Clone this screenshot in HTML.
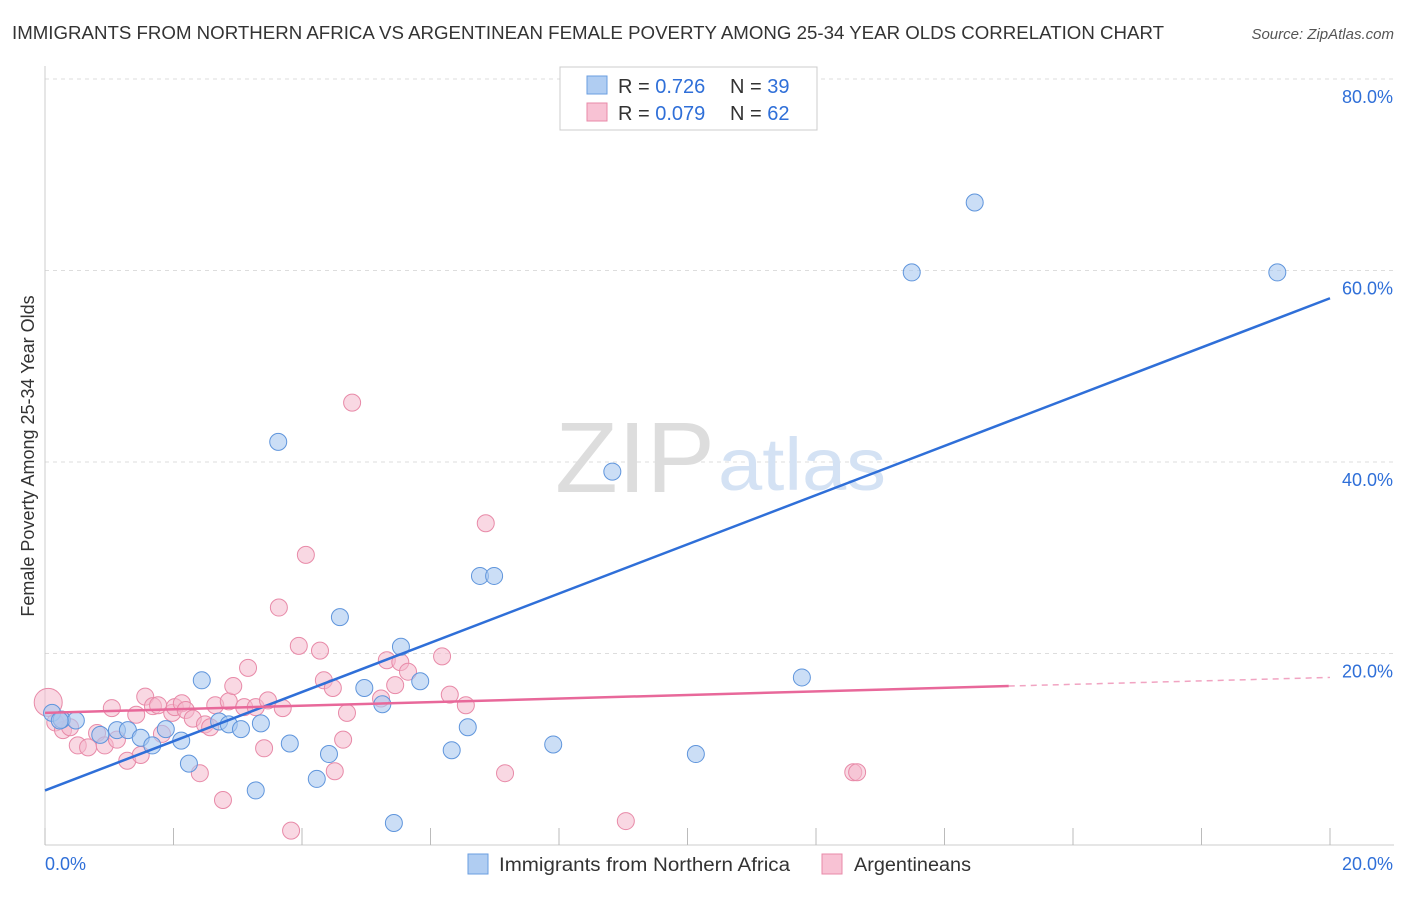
<!DOCTYPE html>
<html><head><meta charset="utf-8">
<style>
body{margin:0;background:#fff;font-family:"Liberation Sans",sans-serif;}
svg text{font-family:"Liberation Sans",sans-serif;}
</style></head><body>
<svg id="chart" width="1406" height="892" xmlns="http://www.w3.org/2000/svg">
<text x="12" y="39" font-size="18" fill="#333" textLength="1152" lengthAdjust="spacingAndGlyphs">IMMIGRANTS FROM NORTHERN AFRICA VS ARGENTINEAN FEMALE POVERTY AMONG 25-34 YEAR OLDS CORRELATION CHART</text>
<text x="1394" y="39" font-size="15" fill="#555" text-anchor="end" font-style="italic">Source: ZipAtlas.com</text>
<text transform="translate(34,456) rotate(-90)" font-size="18" fill="#333" text-anchor="middle">Female Poverty Among 25-34 Year Olds</text>
<g id="grid"></g>
<text x="555" y="492" font-size="100" fill="#ddd" font-family="Liberation Serif" textLength="160" lengthAdjust="spacingAndGlyphs">ZIP</text>
<text x="718" y="490" font-size="74" fill="#d4e2f4" textLength="168" lengthAdjust="spacingAndGlyphs">atlas</text>
<g id="marks"></g>
<g>
<rect x="560" y="67" width="257" height="63" fill="#fff" stroke="#ccc"/>
<rect x="587" y="76" width="20" height="18" fill="#b0cdf2" stroke="#6a9ee0"/>
<rect x="587" y="103" width="20" height="18" fill="#f8c2d4" stroke="#e88aa8"/>
<text x="618" y="93" font-size="20" fill="#333">R = <tspan fill="#2f6fd8">0.726</tspan></text>
<text x="730" y="93" font-size="20" fill="#333">N = <tspan fill="#2f6fd8">39</tspan></text>
<text x="618" y="120" font-size="20" fill="#333">R = <tspan fill="#2f6fd8">0.079</tspan></text>
<text x="730" y="120" font-size="20" fill="#333">N = <tspan fill="#2f6fd8">62</tspan></text>
</g>
<g>
<rect x="468" y="854" width="20" height="20" fill="#b0cdf2" stroke="#6a9ee0"/>
<text x="499" y="871" font-size="19" fill="#333" textLength="291" lengthAdjust="spacingAndGlyphs">Immigrants from Northern Africa</text>
<rect x="822" y="854" width="20" height="20" fill="#f8c2d4" stroke="#e88aa8"/>
<text x="854" y="871" font-size="19" fill="#333" textLength="117" lengthAdjust="spacingAndGlyphs">Argentineans</text>
</g>
</svg>
<script>
const yTicks=[0,20,40,60,80];
const xTickLabels=["0.0%","20.0%"];
const blueX=[0.11,0.26,0.48,0.86,1.12,1.29,1.49,1.67,1.88,2.12,2.24,2.44,2.71,2.86,3.05,3.28,3.36,3.63,3.81,4.23,4.42,4.59,4.97,5.25,5.43,5.54,5.84,6.33,6.58,6.77,6.99,7.91,8.83,10.13,11.78,13.49,14.47,19.18,0.23];
const blueY=[13.8,13.1,13.0,11.5,12.0,12.0,11.2,10.4,12.1,10.9,8.5,17.2,12.9,12.6,12.1,5.7,12.7,42.1,10.6,6.9,9.5,23.8,16.4,14.7,2.3,20.7,17.1,9.9,12.3,28.1,28.1,10.5,39.0,9.5,17.5,59.8,67.1,59.8,13.0];
const pinkX=[0.05,0.16,0.28,0.39,0.51,0.67,0.81,0.93,1.04,1.12,1.28,1.42,1.49,1.56,1.68,1.76,1.82,1.98,2.02,2.13,2.19,2.30,2.41,2.49,2.57,2.65,2.77,2.86,2.93,3.10,3.16,3.28,3.41,3.47,3.70,3.83,3.95,4.06,3.64,4.28,4.34,4.48,4.64,4.51,4.70,4.78,5.23,5.32,5.45,5.53,5.65,6.18,6.30,6.55,6.86,7.16,9.04,12.58,12.64,0.26];
const pinkY=[14.9,12.8,12.0,12.3,10.4,10.2,11.7,10.4,14.3,11.0,8.8,13.6,9.4,15.5,14.5,14.6,11.6,13.8,14.4,14.8,14.1,13.2,7.5,12.6,12.3,14.6,4.7,15.0,16.6,14.4,18.5,14.4,10.1,15.1,14.3,1.5,20.8,30.3,24.8,20.3,17.2,16.4,11.0,7.7,13.8,46.2,15.3,19.3,16.7,19.1,18.1,19.7,15.7,14.6,33.6,7.5,2.5,7.6,7.6,13.1];
const blueLine=[0,5.7,20,57.1];
const pinkLine=[0,13.8,15,16.6,20,17.5];
const X=v=>45+v/20*1285, Y=v=>845-v/80*766;
const NS="http://www.w3.org/2000/svg";
function mk(p,t,a){const e=document.createElementNS(NS,t);for(const k in a)e.setAttribute(k,a[k]);p.appendChild(e);return e;}
const grid=document.getElementById('grid'), marks=document.getElementById('marks');
yTicks.forEach(v=>{
 if(v>0){const l=mk(grid,'line',{x1:45,x2:1394,y1:Y(v),y2:Y(v),stroke:'#ddd','stroke-dasharray':'4,4'});
 
 
 const t=mk(grid,'text',{x:1393,y:Y(v)+24,'font-size':18,fill:'#2f6fd8','text-anchor':'end'});t.textContent=v.toFixed(1)+'%';
 
 }
});
mk(grid,'line',{x1:45,x2:45,y1:66,y2:845,stroke:'#ccc'});
mk(grid,'line',{x1:45,x2:1394,y1:845,y2:845,stroke:'#ccc'});
for(let i=0;i<=10;i++){const l=mk(grid,'line',{x1:X(i*2),x2:X(i*2),y1:828,y2:845,stroke:'#bbb'});
 
 }
const t0=mk(grid,'text',{x:45,y:870,'font-size':18,fill:'#2f6fd8'});t0.textContent=xTickLabels[0];


const t1=mk(grid,'text',{x:1393,y:870,'font-size':18,fill:'#2f6fd8','text-anchor':'end'});t1.textContent=xTickLabels[1];


pinkX.forEach((x,i)=>{const c=mk(marks,'circle',{cx:X(x),cy:Y(pinkY[i]),r:i==0?14:8.5,fill:'#f4b8cc','fill-opacity':0.55,stroke:'#e88aa8','stroke-width':1});
 
 });
blueX.forEach((x,i)=>{const c=mk(marks,'circle',{cx:X(x),cy:Y(blueY[i]),r:8.5,fill:'#a8c8f0','fill-opacity':0.6,stroke:'#5f95dc','stroke-width':1});
 
 });
const bl=mk(marks,'line',{x1:X(blueLine[0]),y1:Y(blueLine[1]),x2:X(blueLine[2]),y2:Y(blueLine[3]),stroke:'#2f6fd8','stroke-width':2.5});


const pl=mk(marks,'line',{x1:X(pinkLine[0]),y1:Y(pinkLine[1]),x2:X(pinkLine[2]),y2:Y(pinkLine[3]),stroke:'#e8689a','stroke-width':2.5});


const pd=mk(marks,'line',{x1:X(pinkLine[2]),y1:Y(pinkLine[3]),x2:X(pinkLine[4]),y2:Y(pinkLine[5]),stroke:'#e8689a','stroke-width':1.5,'stroke-dasharray':'6,5','stroke-opacity':0.6});


</script>
</body></html>
